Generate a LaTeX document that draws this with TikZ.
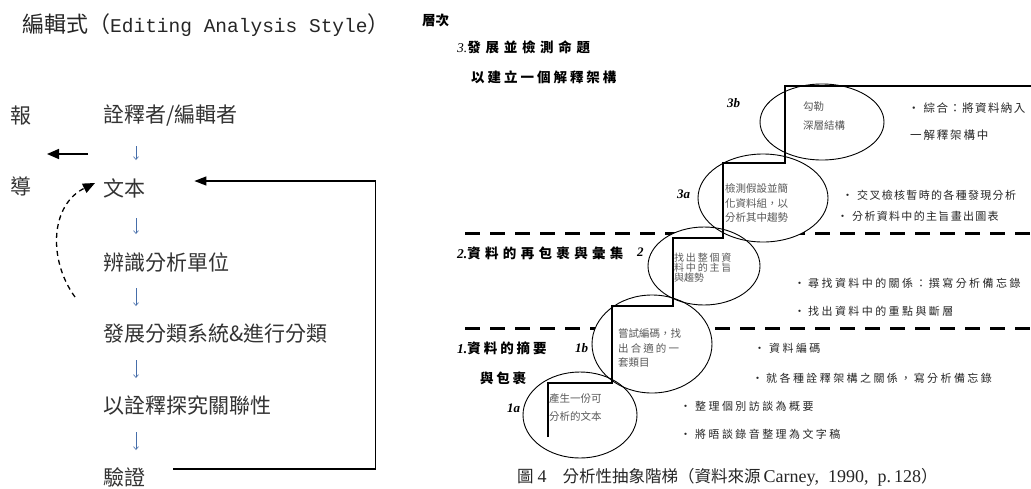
\documentclass[tikz,border=0pt]{standalone}
\usepackage{fontspec}
\setmainfont{Liberation Serif}
\newfontfamily\cjk{Noto Sans CJK TC}
\newfontfamily\monof{Liberation Mono}
\usetikzlibrary{shapes.geometric,arrows.meta,calc}
\newcommand\LS[1]{\addfontfeature{LetterSpace=#1}}
\begin{document}
\begin{tikzpicture}[x=1pt,y=-1pt,
 lt/.style={anchor=west,inner sep=0pt,text=black!80,font=\cjk\fontsize{21}{24}\selectfont},
 bl/.style={anchor=west,inner sep=0pt,font=\cjk\bfseries\fontsize{13.5}{15}\selectfont},
 bu/.style={anchor=west,inner sep=0pt,text=black!85,font=\cjk\fontsize{11}{13}\selectfont\LS{22}},
 bus/.style={anchor=west,inner sep=0pt,text=black!85,font=\cjk\fontsize{11}{13}\selectfont\LS{12}},
 et/.style={anchor=west,inner sep=0pt,text=black!65,font=\cjk\fontsize{10.5}{12}\selectfont},
 lab/.style={anchor=west,inner sep=0pt,font=\bfseries\itshape\fontsize{13}{15}\selectfont},
 ell/.style={ellipse,draw,line width=0.9pt,inner sep=0pt},
 sa/.style={draw={rgb,255:red,70;green,110;blue,170},line width=0.6pt,-{Straight Barb[length=3pt,width=5pt]}},
 big/.style={line width=1.6pt,-{Triangle[length=12pt,width=10pt]}},
 fb/.style={line width=1.3pt,-{Triangle[length=12pt,width=9pt]}},
 dl/.style={line width=3pt,dash pattern=on 15pt off 10pt},
 stair/.style={line width=1.1pt}
]
\useasboundingbox[fill=white] (0,0) rectangle (1031,488);

% ---------- left part ----------
\node[anchor=west,inner sep=0pt,text=black!85] (title) at (22,25)
  {\cjk\fontsize{22}{24}\selectfont 編輯式（\monof\fontsize{19.5}{22}\selectfont Editing Analysis Style\cjk\fontsize{22}{24}\selectfont ）};
\node[lt] (bao) at (10,116) {報};
\node[lt] (dao) at (10,186) {導};
\node[lt] (n1) at (103,116) {詮釋者/編輯者};
\node[lt] (n2) at (103,188) {文本};
\node[lt] (n3) at (103,262) {辨識分析單位};
\node[lt] (n4) at (103,334) {發展分類系統\&進行分類};
\node[lt] (n5) at (103,406) {以詮釋探究關聯性};
\node[lt] (n6) at (103,477) {驗證};

\draw[sa] ($(n1.west)+(33,30)$) -- ($(n2.west)+(33,-28)$);
\draw[sa] ($(n2.west)+(33,30)$) -- ($(n3.west)+(33,-28)$);
\draw[sa] ($(n3.west)+(33,26)$) -- ($(n4.west)+(33,-28)$);
\draw[sa] ($(n4.west)+(33,26)$) -- ($(n5.west)+(33,-28)$);
\draw[sa] ($(n5.west)+(33,26)$) -- ($(n6.west)+(33,-27)$);

\coordinate (la1) at (88,154);
\coordinate (la2) at (47,154);
\draw[big] (la1) -- (la2);

\coordinate (cs) at (75,297);
\coordinate (ct) at (95,183);
\draw[line width=1.3pt,dash pattern=on 5pt off 4pt,-{Triangle[length=12pt,width=10pt]}]
  (cs) .. controls (48,260) and (50,205) .. (ct);

\draw[fb] ($(n6.east)+(28,-8)$) -- ++(202,0) |- ($(n2.east)+(49,-7)$);

% ---------- right part ----------
\node[bl] (cengci) at (422,20) {層次};
\node[bl] (l3a) at (457,47) {{\rmfamily\mdseries\itshape 3.}\LS{35}發展並檢測命題};
\node[bl] (l3b) at (471,77) {\LS{22}以建立一個解釋架構};
\node[bl] (l2) at (457,253) {{\rmfamily\itshape 2.}\LS{32}資料的再包裹與彙集};
\node[lab] (t2) at (637,252) {2};
\node[bl] (l1a) at (457,348) {{\rmfamily\itshape 1.}\LS{22}資料的摘要};
\node[lab] (t1b) at (575,348) {1b};
\node[bl] (l1b) at (480,378) {\LS{20}與包裹};
\node[lab] (t1a) at (507,408) {1a};
\node[lab] (t3a) at (677,194) {3a};
\node[lab] (t3b) at (727,103) {3b};

% dashed level lines
\coordinate (d1a) at (465,233); \coordinate (d1b) at (1031,233);
\coordinate (d2a) at (465,328); \coordinate (d2b) at (1031,328);
\draw[dl] (d1a) -- (d1b);
\draw[dl] (d2a) -- (d2b);

% ellipse fills
\fill[white] (580,415) ellipse [x radius=57,y radius=43];
\fill[white] (652,344) ellipse [x radius=60,y radius=49];
\fill[white] (704,266) ellipse [x radius=56,y radius=39];
\fill[white] (763,198) ellipse [x radius=65,y radius=44];
\fill[white] (822,122) ellipse [x radius=62,y radius=38];
% ellipses
\node[ell,minimum width=114pt,minimum height=86pt] (e1a) at (580,415) {};
\node[ell,minimum width=120pt,minimum height=98pt] (e1b) at (652,344) {};
\node[ell,minimum width=112pt,minimum height=78pt] (e2) at (704,266) {};
\node[ell,minimum width=130pt,minimum height=88pt] (e3a) at (763,198) {};
\node[ell,minimum width=124pt,minimum height=76pt] (e3b) at (822,122) {};

% staircase
\draw[stair] (548,437) -- (548,383) -- (612,383) -- (612,306) -- (673,306) -- (673,238)
  -- (723,238) -- (723,163) -- (785,163) -- (785,86) -- (1031,86);

% ellipse texts
\node[et] (x1a1) at (549,399) {產生一份可};
\node[et] (x1a2) at (549,416) {分析的文本};
\node[et] (x1b1) at (618,333) {嘗試編碼，找};
\node[et] (x1b2) at (618,348) {\LS{20}出合適的一};
\node[et] (x1b3) at (618,363) {套類目};
\node[et,font=\cjk\fontsize{10}{10}\selectfont\LS{18}] (x21) at (674,258) {找出整個資};
\node[et,font=\cjk\fontsize{10}{10}\selectfont\LS{18}] (x22) at (674,268) {料中的主旨};
\node[et,font=\cjk\fontsize{10}{10}\selectfont] (x23) at (674,278) {與趨勢};
\node[et] (x3a1) at (725,188) {檢測假設並簡};
\node[et] (x3a2) at (725,204) {化資料組，以};
\node[et] (x3a3) at (725,218) {分析其中趨勢};
\node[et] (x3b1) at (803,107) {勾勒};
\node[et] (x3b2) at (803,125) {深層結構};

% bullets
\node[bu,font=\cjk\fontsize{11.5}{13}\selectfont\LS{12}] (b1) at (908,108) {•\hspace{4pt}綜合：將資料納入};
\node[bu,font=\cjk\fontsize{11.5}{13}\selectfont\LS{16}] (b2) at (910,135) {一解釋架構中};
\node[bus] (b3) at (842,195) {•\hspace{4pt}交叉檢核暫時的各種發現分析};
\node[bus] (b4) at (837,216) {•\hspace{4pt}分析資料中的主旨畫出圖表};
\node[bu] (b5) at (794,283) {•\hspace{3pt}尋找資料中的關係：撰寫分析備忘錄};
\node[bu] (b6) at (794,311) {•\hspace{3pt}找出資料中的重點與斷層};
\node[bu] (b7) at (754,348) {•\hspace{4pt}資料編碼};
\node[bu] (b8) at (752,378) {•\hspace{3pt}就各種詮釋架構之關係，寫分析備忘錄};
\node[bu] (b9) at (680,406) {•\hspace{4pt}整理個別訪談為概要};
\node[bu] (b10) at (680,434) {•\hspace{4pt}將晤談錄音整理為文字稿};

% caption
\node[anchor=west,inner sep=0pt,text=black!85,font=\fontsize{16.5}{18}\selectfont] (cap) at (517,477)
  {\cjk 圖\hspace{4pt}{\rmfamily\fontsize{18}{18}\selectfont 4}\hspace{16pt}分析性抽象階梯（資料來源{\rmfamily\fontsize{18}{18}\selectfont\,Carney,\ \ 1990,\ \ p.\,128}）};
\end{tikzpicture}
\end{document}
